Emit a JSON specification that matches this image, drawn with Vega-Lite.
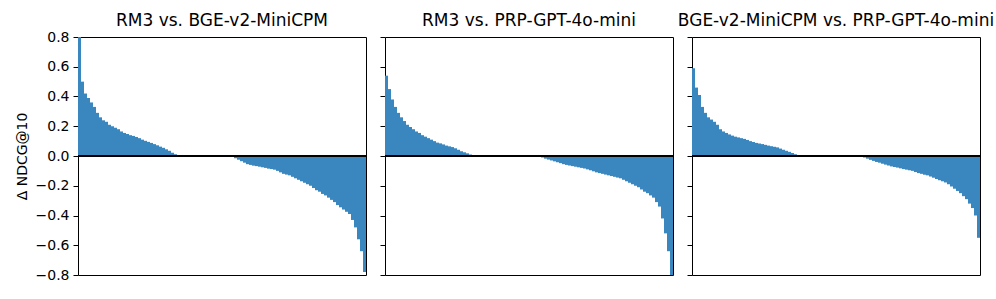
{
  "$schema": "https://vega.github.io/schema/vega-lite/v6.json",
  "padding": {"left": 14, "top": 11, "right": 5, "bottom": 5},
  "background": "white",
  "bounds": "flush",
  "config": {
    "font": "DejaVu Sans",
    "view": {"stroke": "black", "strokeWidth": 1},
    "concat": {"spacing": 19},
    "title": {"fontSize": 17, "fontWeight": "normal", "color": "black", "offset": 7},
    "axis": {"labelFont": "DejaVu Sans", "titleFont": "DejaVu Sans", "labelOverlap": false, "labelBound": false, "labelFlush": false}
  },
  "datasets": {
    "d": [
      {"p": "a", "i": 0, "v": 0.8}, {"p": "a", "i": 1, "v": 0.5}, {"p": "a", "i": 2, "v": 0.42}, {"p": "a", "i": 3, "v": 0.39},
      {"p": "a", "i": 4, "v": 0.36}, {"p": "a", "i": 5, "v": 0.33}, {"p": "a", "i": 6, "v": 0.29}, {"p": "a", "i": 7, "v": 0.26},
      {"p": "a", "i": 8, "v": 0.24}, {"p": "a", "i": 9, "v": 0.23}, {"p": "a", "i": 10, "v": 0.21}, {"p": "a", "i": 11, "v": 0.2},
      {"p": "a", "i": 12, "v": 0.19}, {"p": "a", "i": 13, "v": 0.18}, {"p": "a", "i": 14, "v": 0.165}, {"p": "a", "i": 15, "v": 0.155},
      {"p": "a", "i": 16, "v": 0.148}, {"p": "a", "i": 17, "v": 0.14}, {"p": "a", "i": 18, "v": 0.135}, {"p": "a", "i": 19, "v": 0.128},
      {"p": "a", "i": 20, "v": 0.12}, {"p": "a", "i": 21, "v": 0.11}, {"p": "a", "i": 22, "v": 0.102}, {"p": "a", "i": 23, "v": 0.095},
      {"p": "a", "i": 24, "v": 0.088}, {"p": "a", "i": 25, "v": 0.08}, {"p": "a", "i": 26, "v": 0.072}, {"p": "a", "i": 27, "v": 0.063},
      {"p": "a", "i": 28, "v": 0.055}, {"p": "a", "i": 29, "v": 0.045}, {"p": "a", "i": 30, "v": 0.035}, {"p": "a", "i": 31, "v": 0.022},
      {"p": "a", "i": 32, "v": 0.012}, {"p": "a", "i": 33, "v": 0.004}, {"p": "a", "i": 34, "v": 0}, {"p": "a", "i": 35, "v": 0},
      {"p": "a", "i": 36, "v": 0}, {"p": "a", "i": 37, "v": 0}, {"p": "a", "i": 38, "v": 0}, {"p": "a", "i": 39, "v": 0},
      {"p": "a", "i": 40, "v": 0}, {"p": "a", "i": 41, "v": 0}, {"p": "a", "i": 42, "v": 0}, {"p": "a", "i": 43, "v": 0},
      {"p": "a", "i": 44, "v": 0}, {"p": "a", "i": 45, "v": 0}, {"p": "a", "i": 46, "v": 0}, {"p": "a", "i": 47, "v": 0},
      {"p": "a", "i": 48, "v": 0}, {"p": "a", "i": 49, "v": 0}, {"p": "a", "i": 50, "v": 0}, {"p": "a", "i": 51, "v": -0.005},
      {"p": "a", "i": 52, "v": -0.015}, {"p": "a", "i": 53, "v": -0.025}, {"p": "a", "i": 54, "v": -0.035}, {"p": "a", "i": 55, "v": -0.045},
      {"p": "a", "i": 56, "v": -0.055}, {"p": "a", "i": 57, "v": -0.06}, {"p": "a", "i": 58, "v": -0.065}, {"p": "a", "i": 59, "v": -0.068},
      {"p": "a", "i": 60, "v": -0.072}, {"p": "a", "i": 61, "v": -0.076}, {"p": "a", "i": 62, "v": -0.08}, {"p": "a", "i": 63, "v": -0.085},
      {"p": "a", "i": 64, "v": -0.088}, {"p": "a", "i": 65, "v": -0.092}, {"p": "a", "i": 66, "v": -0.1}, {"p": "a", "i": 67, "v": -0.11},
      {"p": "a", "i": 68, "v": -0.12}, {"p": "a", "i": 69, "v": -0.125}, {"p": "a", "i": 70, "v": -0.13}, {"p": "a", "i": 71, "v": -0.14},
      {"p": "a", "i": 72, "v": -0.15}, {"p": "a", "i": 73, "v": -0.16}, {"p": "a", "i": 74, "v": -0.17}, {"p": "a", "i": 75, "v": -0.18},
      {"p": "a", "i": 76, "v": -0.19}, {"p": "a", "i": 77, "v": -0.2}, {"p": "a", "i": 78, "v": -0.215}, {"p": "a", "i": 79, "v": -0.23},
      {"p": "a", "i": 80, "v": -0.24}, {"p": "a", "i": 81, "v": -0.255}, {"p": "a", "i": 82, "v": -0.265}, {"p": "a", "i": 83, "v": -0.28},
      {"p": "a", "i": 84, "v": -0.295}, {"p": "a", "i": 85, "v": -0.31}, {"p": "a", "i": 86, "v": -0.33}, {"p": "a", "i": 87, "v": -0.345},
      {"p": "a", "i": 88, "v": -0.36}, {"p": "a", "i": 89, "v": -0.375}, {"p": "a", "i": 90, "v": -0.39}, {"p": "a", "i": 91, "v": -0.43},
      {"p": "a", "i": 92, "v": -0.48}, {"p": "a", "i": 93, "v": -0.56}, {"p": "a", "i": 94, "v": -0.64}, {"p": "a", "i": 95, "v": -0.78},

      {"p": "b", "i": 0, "v": 0.54}, {"p": "b", "i": 1, "v": 0.45}, {"p": "b", "i": 2, "v": 0.38}, {"p": "b", "i": 3, "v": 0.33},
      {"p": "b", "i": 4, "v": 0.29}, {"p": "b", "i": 5, "v": 0.26}, {"p": "b", "i": 6, "v": 0.235}, {"p": "b", "i": 7, "v": 0.21},
      {"p": "b", "i": 8, "v": 0.195}, {"p": "b", "i": 9, "v": 0.18}, {"p": "b", "i": 10, "v": 0.165}, {"p": "b", "i": 11, "v": 0.155},
      {"p": "b", "i": 12, "v": 0.14}, {"p": "b", "i": 13, "v": 0.13}, {"p": "b", "i": 14, "v": 0.12}, {"p": "b", "i": 15, "v": 0.11},
      {"p": "b", "i": 16, "v": 0.1}, {"p": "b", "i": 17, "v": 0.09}, {"p": "b", "i": 18, "v": 0.085}, {"p": "b", "i": 19, "v": 0.078},
      {"p": "b", "i": 20, "v": 0.07}, {"p": "b", "i": 21, "v": 0.065}, {"p": "b", "i": 22, "v": 0.06}, {"p": "b", "i": 23, "v": 0.052},
      {"p": "b", "i": 24, "v": 0.042}, {"p": "b", "i": 25, "v": 0.032}, {"p": "b", "i": 26, "v": 0.025}, {"p": "b", "i": 27, "v": 0.018},
      {"p": "b", "i": 28, "v": 0.01}, {"p": "b", "i": 29, "v": 0.004}, {"p": "b", "i": 30, "v": 0}, {"p": "b", "i": 31, "v": 0},
      {"p": "b", "i": 32, "v": 0}, {"p": "b", "i": 33, "v": 0}, {"p": "b", "i": 34, "v": 0}, {"p": "b", "i": 35, "v": 0},
      {"p": "b", "i": 36, "v": 0}, {"p": "b", "i": 37, "v": 0}, {"p": "b", "i": 38, "v": 0}, {"p": "b", "i": 39, "v": 0},
      {"p": "b", "i": 40, "v": 0}, {"p": "b", "i": 41, "v": 0}, {"p": "b", "i": 42, "v": 0}, {"p": "b", "i": 43, "v": 0},
      {"p": "b", "i": 44, "v": 0}, {"p": "b", "i": 45, "v": 0}, {"p": "b", "i": 46, "v": 0}, {"p": "b", "i": 47, "v": 0},
      {"p": "b", "i": 48, "v": 0}, {"p": "b", "i": 49, "v": 0}, {"p": "b", "i": 50, "v": 0}, {"p": "b", "i": 51, "v": -0.003},
      {"p": "b", "i": 52, "v": -0.01}, {"p": "b", "i": 53, "v": -0.018}, {"p": "b", "i": 54, "v": -0.024}, {"p": "b", "i": 55, "v": -0.03},
      {"p": "b", "i": 56, "v": -0.036}, {"p": "b", "i": 57, "v": -0.042}, {"p": "b", "i": 58, "v": -0.048}, {"p": "b", "i": 59, "v": -0.055},
      {"p": "b", "i": 60, "v": -0.06}, {"p": "b", "i": 61, "v": -0.064}, {"p": "b", "i": 62, "v": -0.068}, {"p": "b", "i": 63, "v": -0.072},
      {"p": "b", "i": 64, "v": -0.076}, {"p": "b", "i": 65, "v": -0.08}, {"p": "b", "i": 66, "v": -0.084}, {"p": "b", "i": 67, "v": -0.09},
      {"p": "b", "i": 68, "v": -0.096}, {"p": "b", "i": 69, "v": -0.103}, {"p": "b", "i": 70, "v": -0.11}, {"p": "b", "i": 71, "v": -0.115},
      {"p": "b", "i": 72, "v": -0.12}, {"p": "b", "i": 73, "v": -0.125}, {"p": "b", "i": 74, "v": -0.13}, {"p": "b", "i": 75, "v": -0.135},
      {"p": "b", "i": 76, "v": -0.14}, {"p": "b", "i": 77, "v": -0.145}, {"p": "b", "i": 78, "v": -0.15}, {"p": "b", "i": 79, "v": -0.16},
      {"p": "b", "i": 80, "v": -0.17}, {"p": "b", "i": 81, "v": -0.18}, {"p": "b", "i": 82, "v": -0.19}, {"p": "b", "i": 83, "v": -0.2},
      {"p": "b", "i": 84, "v": -0.21}, {"p": "b", "i": 85, "v": -0.225}, {"p": "b", "i": 86, "v": -0.24}, {"p": "b", "i": 87, "v": -0.25},
      {"p": "b", "i": 88, "v": -0.265}, {"p": "b", "i": 89, "v": -0.28}, {"p": "b", "i": 90, "v": -0.31}, {"p": "b", "i": 91, "v": -0.34},
      {"p": "b", "i": 92, "v": -0.42}, {"p": "b", "i": 93, "v": -0.52}, {"p": "b", "i": 94, "v": -0.64}, {"p": "b", "i": 95, "v": -0.8},

      {"p": "c", "i": 0, "v": 0.59}, {"p": "c", "i": 1, "v": 0.46}, {"p": "c", "i": 2, "v": 0.41}, {"p": "c", "i": 3, "v": 0.33},
      {"p": "c", "i": 4, "v": 0.29}, {"p": "c", "i": 5, "v": 0.26}, {"p": "c", "i": 6, "v": 0.245}, {"p": "c", "i": 7, "v": 0.23},
      {"p": "c", "i": 8, "v": 0.21}, {"p": "c", "i": 9, "v": 0.18}, {"p": "c", "i": 10, "v": 0.165}, {"p": "c", "i": 11, "v": 0.155},
      {"p": "c", "i": 12, "v": 0.145}, {"p": "c", "i": 13, "v": 0.137}, {"p": "c", "i": 14, "v": 0.13}, {"p": "c", "i": 15, "v": 0.125},
      {"p": "c", "i": 16, "v": 0.12}, {"p": "c", "i": 17, "v": 0.115}, {"p": "c", "i": 18, "v": 0.108}, {"p": "c", "i": 19, "v": 0.1},
      {"p": "c", "i": 20, "v": 0.094}, {"p": "c", "i": 21, "v": 0.088}, {"p": "c", "i": 22, "v": 0.084}, {"p": "c", "i": 23, "v": 0.08},
      {"p": "c", "i": 24, "v": 0.075}, {"p": "c", "i": 25, "v": 0.07}, {"p": "c", "i": 26, "v": 0.066}, {"p": "c", "i": 27, "v": 0.062},
      {"p": "c", "i": 28, "v": 0.058}, {"p": "c", "i": 29, "v": 0.05}, {"p": "c", "i": 30, "v": 0.042}, {"p": "c", "i": 31, "v": 0.035},
      {"p": "c", "i": 32, "v": 0.028}, {"p": "c", "i": 33, "v": 0.02}, {"p": "c", "i": 34, "v": 0.012}, {"p": "c", "i": 35, "v": 0.006},
      {"p": "c", "i": 36, "v": 0.002}, {"p": "c", "i": 37, "v": 0}, {"p": "c", "i": 38, "v": 0}, {"p": "c", "i": 39, "v": 0},
      {"p": "c", "i": 40, "v": 0}, {"p": "c", "i": 41, "v": 0}, {"p": "c", "i": 42, "v": 0}, {"p": "c", "i": 43, "v": 0},
      {"p": "c", "i": 44, "v": 0}, {"p": "c", "i": 45, "v": 0}, {"p": "c", "i": 46, "v": 0}, {"p": "c", "i": 47, "v": 0},
      {"p": "c", "i": 48, "v": 0}, {"p": "c", "i": 49, "v": 0}, {"p": "c", "i": 50, "v": 0}, {"p": "c", "i": 51, "v": 0},
      {"p": "c", "i": 52, "v": 0}, {"p": "c", "i": 53, "v": 0}, {"p": "c", "i": 54, "v": 0}, {"p": "c", "i": 55, "v": 0},
      {"p": "c", "i": 56, "v": -0.003}, {"p": "c", "i": 57, "v": -0.01}, {"p": "c", "i": 58, "v": -0.018}, {"p": "c", "i": 59, "v": -0.026},
      {"p": "c", "i": 60, "v": -0.033}, {"p": "c", "i": 61, "v": -0.04}, {"p": "c", "i": 62, "v": -0.045}, {"p": "c", "i": 63, "v": -0.052},
      {"p": "c", "i": 64, "v": -0.058}, {"p": "c", "i": 65, "v": -0.064}, {"p": "c", "i": 66, "v": -0.07}, {"p": "c", "i": 67, "v": -0.074},
      {"p": "c", "i": 68, "v": -0.078}, {"p": "c", "i": 69, "v": -0.083}, {"p": "c", "i": 70, "v": -0.088}, {"p": "c", "i": 71, "v": -0.092},
      {"p": "c", "i": 72, "v": -0.096}, {"p": "c", "i": 73, "v": -0.1}, {"p": "c", "i": 74, "v": -0.108}, {"p": "c", "i": 75, "v": -0.115},
      {"p": "c", "i": 76, "v": -0.12}, {"p": "c", "i": 77, "v": -0.126}, {"p": "c", "i": 78, "v": -0.13}, {"p": "c", "i": 79, "v": -0.138},
      {"p": "c", "i": 80, "v": -0.146}, {"p": "c", "i": 81, "v": -0.155}, {"p": "c", "i": 82, "v": -0.163}, {"p": "c", "i": 83, "v": -0.17},
      {"p": "c", "i": 84, "v": -0.178}, {"p": "c", "i": 85, "v": -0.19}, {"p": "c", "i": 86, "v": -0.205}, {"p": "c", "i": 87, "v": -0.22},
      {"p": "c", "i": 88, "v": -0.235}, {"p": "c", "i": 89, "v": -0.25}, {"p": "c", "i": 90, "v": -0.27}, {"p": "c", "i": 91, "v": -0.29},
      {"p": "c", "i": 92, "v": -0.32}, {"p": "c", "i": 93, "v": -0.35}, {"p": "c", "i": 94, "v": -0.4}, {"p": "c", "i": 95, "v": -0.55}
    ]
  },
  "data": {"name": "d"},
  "hconcat": [
    {
      "title": {"text": "RM3 vs. BGE-v2-MiniCPM", "offset": 0},
      "width": 288, "height": 238,
      "transform": [{"filter": "datum.p == 'a'"}],
      "layer": [
        {
          "mark": {"type": "bar", "color": "#3a87c0", "strokeWidth": 0},
          "encoding": {
            "x": {"field": "i", "type": "ordinal", "axis": null, "scale": {"paddingInner": 0, "paddingOuter": 0}},
            "y": {"field": "v", "type": "quantitative", "scale": {"domain": [-0.8, 0.8], "nice": false},
              "axis": {"title": "Δ NDCG@10", "titleFontSize": 14, "titleFontWeight": "normal", "titleColor": "black", "titlePadding": 6,
                "values": [-0.8, -0.6, -0.4, -0.2, 0, 0.2, 0.4, 0.6, 0.8], "format": ".1f", "labelFontSize": 14, "labelColor": "black",
                "labelOverlap": false, "tickColor": "black", "tickSize": 5, "domain": false, "grid": false, "labelPadding": 4}}
          }
        },
        {
          "mark": {"type": "rule", "color": "black", "strokeWidth": 1.3},
          "encoding": {"y": {"datum": 0, "type": "quantitative",
              "axis": {"title": "Δ NDCG@10", "titleFontSize": 14, "titleFontWeight": "normal", "titleColor": "black", "titlePadding": 6,
                "values": [-0.8, -0.6, -0.4, -0.2, 0, 0.2, 0.4, 0.6, 0.8], "format": ".1f", "labelFontSize": 14, "labelColor": "black",
                "labelOverlap": false, "tickColor": "black", "tickSize": 5, "domain": false, "grid": false, "labelPadding": 4}}}
        }
      ]
    },
    {
      "title": "RM3 vs. PRP-GPT-4o-mini",
      "width": 288, "height": 238,
      "transform": [{"filter": "datum.p == 'b'"}],
      "layer": [
        {
          "mark": {"type": "bar", "color": "#3a87c0", "strokeWidth": 0},
          "encoding": {
            "x": {"field": "i", "type": "ordinal", "axis": null, "scale": {"paddingInner": 0, "paddingOuter": 0}},
            "y": {"field": "v", "type": "quantitative", "scale": {"domain": [-0.8, 0.8], "nice": false},
              "axis": {"title": null, "labels": false, "values": [-0.8, -0.6, -0.4, -0.2, 0, 0.2, 0.4, 0.6, 0.8],
                "tickColor": "black", "tickSize": 5, "domain": false, "grid": false}}
          }
        },
        {
          "mark": {"type": "rule", "color": "black", "strokeWidth": 1.3},
          "encoding": {"y": {"datum": 0, "type": "quantitative",
              "axis": {"title": null, "labels": false, "values": [-0.8, -0.6, -0.4, -0.2, 0, 0.2, 0.4, 0.6, 0.8],
                "tickColor": "black", "tickSize": 5, "domain": false, "grid": false}}}
        }
      ]
    },
    {
      "title": "BGE-v2-MiniCPM vs. PRP-GPT-4o-mini",
      "width": 288, "height": 238,
      "transform": [{"filter": "datum.p == 'c'"}],
      "layer": [
        {
          "mark": {"type": "bar", "color": "#3a87c0", "strokeWidth": 0},
          "encoding": {
            "x": {"field": "i", "type": "ordinal", "axis": null, "scale": {"paddingInner": 0, "paddingOuter": 0}},
            "y": {"field": "v", "type": "quantitative", "scale": {"domain": [-0.8, 0.8], "nice": false},
              "axis": {"title": null, "labels": false, "values": [-0.8, -0.6, -0.4, -0.2, 0, 0.2, 0.4, 0.6, 0.8],
                "tickColor": "black", "tickSize": 5, "domain": false, "grid": false}}
          }
        },
        {
          "mark": {"type": "rule", "color": "black", "strokeWidth": 1.3},
          "encoding": {"y": {"datum": 0, "type": "quantitative",
              "axis": {"title": null, "labels": false, "values": [-0.8, -0.6, -0.4, -0.2, 0, 0.2, 0.4, 0.6, 0.8],
                "tickColor": "black", "tickSize": 5, "domain": false, "grid": false}}}
        }
      ]
    }
  ]
}
